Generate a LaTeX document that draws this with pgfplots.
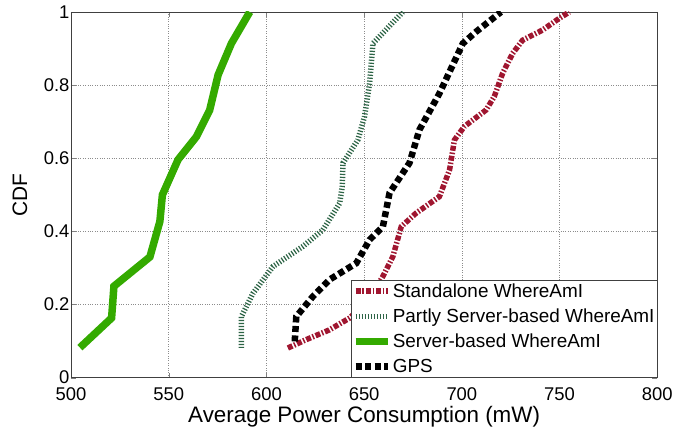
\documentclass[border=0pt]{standalone}
\usepackage{fontspec}
\setmainfont{Liberation Sans}
\usepackage{pgfplots}
\pgfplotsset{compat=1.18}
\definecolor{standred}{RGB}{160,22,48}
\definecolor{partgreen}{RGB}{45,100,70}
\definecolor{srvgreen}{RGB}{52,170,0}

\begin{document}
\begin{tikzpicture}
\begin{axis}[
  name=ax,
  scale only axis,
  width=587bp, height=366bp,
  xmin=500, xmax=800, ymin=0, ymax=1,
  xtick={500,550,...,800},
  ytick={0,0.2,...,1},
  yticklabel style={/pgf/number format/fixed,/pgf/number format/precision=1,
    inner ysep=0.5bp, xshift=2bp},
  /pgf/number format/assume math mode=true,
  tick label style={font=\fontsize{18.5}{20}\selectfont},
  xticklabel style={inner ysep=0.5bp, yshift=-9bp},
  xlabel={Average Power Consumption (mW)},
  ylabel={CDF},
  every axis x label/.style={at={([yshift=-45bp]axis description cs:0.5,0)}, anchor=base,
    font=\fontsize{22.5}{25}\selectfont},
  every axis y label/.style={at={([xshift=-51bp]axis description cs:0,0.5)}, anchor=center, rotate=90,
    font=\fontsize{21}{23}\selectfont},
  tick align=inside, major tick length=5bp,
  axis line style={draw=black!75, line width=0.8pt},
  grid=major,
  major grid style={dotted, draw=black!45, line width=0.6pt},
  legend style={at={(1,0)}, anchor=south east, draw=black!75, line width=0.6pt,
    font=\fontsize{19}{21}\selectfont, row sep=7bp, inner xsep=1bp, inner ysep=2bp,
    nodes={inner sep=1.5bp}},
  legend cell align=left,
  legend image code/.code={\draw[#1] (0bp,0bp) -- (32bp,0bp);},
]
\addplot[standred, line width=5.5bp, dash pattern=on 5bp off 1.8bp on 1.5bp off 1.8bp] coordinates {
(611,0.081) (620.4,0.104) (632,0.13) (642.6,0.163) (652,0.21) (659.6,0.277) (664.7,0.331)
(669,0.413) (676.6,0.45) (688.5,0.495) (693.7,0.568) (696.2,0.65) (701.3,0.687)
(712.4,0.732) (716.6,0.769) (720.9,0.833) (726,0.887) (731.1,0.923) (741.4,0.951)
(749.9,0.983) (755,1.0)};
\addlegendentry{Standalone WhereAmI}
\addplot[partgreen, line width=5.5bp, dash pattern=on 1.2bp off 1.8bp] coordinates {
(587.2,0.081) (587.2,0.167) (593.2,0.231) (603.4,0.304) (618.7,0.359) (628.9,0.404)
(637.5,0.477) (638.8,0.523) (639.2,0.587) (646.8,0.65) (650.2,0.714) (652.8,0.805)
(654.5,0.914) (669.8,1.0)};
\addlegendentry{Partly Server-based WhereAmI}
\addplot[srvgreen, line width=7.5bp] coordinates {
(504.6,0.082) (520.8,0.163) (522,0.25) (540.4,0.33) (545.5,0.427) (546.8,0.5)
(554.8,0.596) (564.2,0.659) (571,0.732) (575.3,0.828) (582.1,0.914) (591.5,1.0)};
\addlegendentry{Server-based WhereAmI}
\addplot[black, line width=6.5bp, dash pattern=on 6bp off 3.5bp] coordinates {
(614.5,0.099) (615.3,0.167) (623.8,0.222) (632.3,0.268) (646,0.313) (652.8,0.377)
(659.6,0.413) (663,0.505) (673.2,0.587) (678.3,0.678) (688.5,0.777) (700.5,0.914)
(707.3,0.946) (720,1.0)};
\addlegendentry{GPS}
\end{axis}
\path ([xshift=-71bp,yshift=-54bp]ax.south west) rectangle ([xshift=18bp,yshift=12bp]ax.north east);
\end{tikzpicture}
\end{document}
